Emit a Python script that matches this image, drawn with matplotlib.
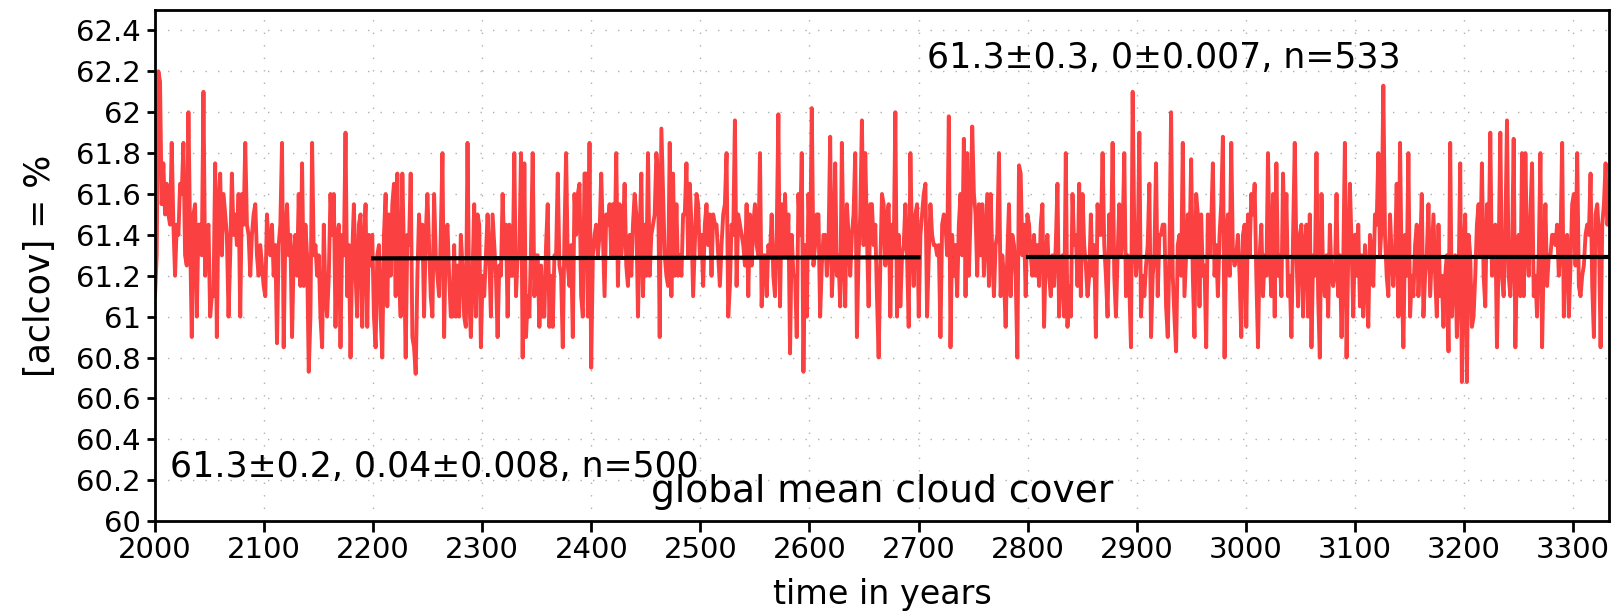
import numpy as np
import matplotlib.pyplot as plt

# global mean cloud cover at ~1.5 year steps
cover = [
    61.1, 61.3, 62.2, 62.15, 61.55, 61.75, 61.5, 61.65, 61.5, 61.45,
    61.85, 61.45, 61.2, 61.45, 61.4, 61.65, 61.6, 61.85, 61.3, 61.25,
    62.0, 61.4, 60.9, 61.5, 61.55, 61.0, 61.45, 61.45, 61.3, 62.1,
    61.2, 61.4, 61.45, 61.0, 61.1, 61.1, 61.75, 60.9, 61.55, 61.7,
    61.3, 61.6, 61.5, 61.4, 61.0, 61.3, 61.7, 61.4, 61.5, 61.35,
    61.6, 61.0, 61.6, 61.45, 61.85, 61.45, 61.4, 61.2, 61.4, 61.5,
    61.55, 61.3, 61.2, 61.35, 61.25, 61.15, 61.1, 61.5, 61.35, 61.3,
    61.45, 61.2, 61.35, 60.87, 61.35, 61.45, 61.85, 60.85, 61.4, 61.55,
    61.3, 61.4, 60.9, 61.3, 61.4, 61.2, 61.6, 61.15, 61.75, 61.15,
    61.45, 61.3, 60.73, 61.0, 61.85, 61.3, 61.35, 61.2, 61.3, 61.0,
    60.85, 61.45, 61.1, 61.0, 61.2, 61.6, 61.4, 61.6, 60.95, 61.4,
    61.45, 60.85, 61.4, 61.3, 61.9, 61.1, 61.35, 60.8, 61.3, 61.55,
    61.2, 61.0, 61.45, 61.5, 60.95, 61.35, 61.55, 60.95, 61.4, 61.25,
    61.4, 61.0, 60.85, 61.3, 61.35, 61.0, 60.8, 61.4, 61.6, 61.05,
    61.5, 61.2, 61.55, 61.65, 61.1,
    # ~2222-2447
    61.7, 61.2, 61.0, 61.7, 61.3, 60.8, 61.4, 61.35, 61.7, 60.9,
    60.85, 60.72, 61.2, 61.5, 61.3, 61.45, 61.0, 61.4, 61.6, 61.35,
    61.1, 61.0, 61.6, 61.3, 61.2, 61.1, 61.4, 61.8, 60.9, 61.4,
    61.45, 61.2, 61.0, 61.0, 61.35, 61.0, 61.25, 61.0, 61.4, 61.25,
    61.0, 60.95, 61.85, 61.1, 60.9, 61.2, 61.55, 61.0, 61.5, 61.45,
    60.85, 61.2, 61.1, 61.3, 61.5, 61.3, 61.0, 61.5, 61.35, 61.2,
    60.9, 61.25, 61.2, 61.6, 61.3, 61.45, 61.0, 61.45, 61.2, 61.2,
    61.8, 61.1, 61.3, 61.3, 61.8, 60.8, 61.75, 60.9, 61.1, 61.0,
    61.35, 61.8, 61.1, 61.3, 61.3, 60.95, 61.25, 61.0, 61.0, 61.35,
    61.55, 60.95, 61.2, 60.95, 61.3, 61.3, 61.7, 61.25, 61.2, 60.85,
    61.4, 61.8, 61.25, 61.15, 61.35, 60.9, 61.6, 61.4, 61.6, 61.65,
    61.1, 61.0, 61.7, 61.7, 61.0, 61.85, 60.75, 61.3, 61.4, 61.45,
    61.3, 61.4, 61.7, 61.4, 61.1, 61.5, 61.45, 61.55, 61.3, 61.55,
    61.3, 61.8, 61.15, 61.55, 61.3, 61.4, 61.65, 61.25, 61.15, 61.4,
    61.2, 61.45, 61.6, 61.5, 61.0, 61.4, 61.7,
    # ~2447-2672
    61.1, 61.45, 61.2, 61.8, 61.2, 61.4, 61.45, 61.5, 61.8, 61.7,
    60.9, 61.92, 61.6, 61.3, 61.2, 61.15, 61.85, 61.1, 61.7, 61.2,
    61.55, 61.2, 61.3, 61.2, 61.5, 61.5, 61.75, 61.3, 61.65, 61.45,
    61.1, 61.35, 61.6, 61.55, 61.3, 61.4, 61.15, 61.45, 61.55, 61.35,
    61.5, 61.2, 61.5, 61.45, 61.45, 61.3, 61.15, 61.35, 61.5, 61.55,
    61.8, 61.0, 61.15, 61.45, 61.4, 61.96, 61.15, 61.5, 61.45, 61.4,
    61.35, 61.25, 61.55, 61.1, 61.5, 61.25, 61.45, 61.55, 61.35, 61.3,
    61.8, 61.05, 61.3, 61.3, 61.1, 61.35, 61.3, 61.5, 61.2, 61.1,
    61.4, 61.99, 61.05, 61.55, 61.3, 61.6, 61.3, 61.5, 60.82, 61.4,
    61.2, 61.2, 60.9, 61.6, 61.4, 61.8, 60.73, 61.35, 61.0, 61.6,
    61.3, 62.02, 61.25, 61.35, 61.5, 61.5, 61.0, 61.25, 61.4, 61.4,
    61.2, 61.35, 61.88, 61.1, 61.3, 61.75, 61.2, 61.3, 61.05, 61.85,
    61.3, 61.05, 61.55, 61.4, 61.2, 61.4, 61.5, 61.8, 60.9, 61.3,
    61.5, 61.96, 61.35, 61.8, 61.4, 61.05, 61.55, 61.55, 61.35, 61.45,
    61.1, 60.8, 61.25, 61.6, 61.55, 61.25, 61.5,
    # ~2672-2897
    61.55, 61.0, 61.45, 61.3, 62.0, 61.0, 61.4, 61.05, 61.3, 61.35,
    61.55, 61.3, 60.95, 61.8, 61.35, 61.15, 61.5, 61.55, 61.0, 61.4,
    61.5, 61.6, 61.65, 61.0, 61.3, 61.55, 61.4, 61.35, 61.35, 61.3,
    61.35, 60.9, 61.45, 61.5, 61.45, 61.3, 61.98, 60.85, 61.4, 61.2,
    61.35, 61.1, 61.45, 61.6, 61.3, 61.87, 61.1, 61.8, 61.2, 61.5,
    61.93, 61.6, 61.5, 61.2, 61.55, 61.3, 61.55, 61.2, 61.4, 61.6,
    61.15, 61.6, 61.3, 61.1, 61.35, 61.4, 61.8, 61.1, 61.3, 61.2,
    60.95, 61.3, 61.55, 61.1, 61.4, 61.35, 61.2, 60.8, 61.74, 61.7,
    61.3, 61.45, 61.1, 61.5, 61.45, 61.3, 61.2, 61.4, 61.2, 61.35,
    61.15, 61.45, 61.55, 60.95, 61.3, 61.4, 61.2, 61.1, 61.3, 61.15,
    61.35, 61.65, 61.0, 61.25, 61.3, 61.0, 61.8, 60.95, 61.15, 61.0,
    61.6, 61.35, 61.4, 61.15, 61.65, 61.1, 61.6, 61.35, 61.25, 61.1,
    61.2, 61.5, 61.2, 61.35, 60.9, 61.55, 61.4, 61.4, 61.8, 61.35,
    61.2, 61.0, 61.5, 61.3, 61.85, 61.2, 61.0, 61.3, 61.55, 61.3,
    61.4, 61.8, 61.1, 61.3, 61.15, 60.85, 62.1,
    # ~2897-3122
    61.4, 61.2, 61.3, 61.9, 61.0, 61.2, 61.1, 61.25, 61.35, 61.65,
    60.9, 61.2, 61.3, 61.75, 61.1, 61.4, 61.4, 61.45, 61.45, 61.05,
    60.9, 61.3, 62.0, 61.2, 61.0, 60.83, 61.35, 61.4, 61.2, 61.85,
    61.1, 61.3, 61.5, 61.3, 61.77, 61.2, 60.9, 61.6, 61.5, 61.05,
    61.5, 61.2, 61.25, 60.85, 61.5, 61.3, 61.45, 61.75, 61.2, 61.35,
    61.1, 61.4, 61.55, 61.88, 60.8, 61.4, 61.5, 61.2, 61.85, 61.3,
    61.25, 61.3, 61.4, 61.2, 60.9, 61.4, 61.45, 60.95, 61.5, 61.3,
    61.6, 61.5, 61.65, 61.2, 60.85, 61.3, 61.45, 61.1, 61.3, 61.2,
    61.8, 61.3, 61.1, 61.6, 61.0, 61.75, 61.2, 61.3, 61.1, 61.7,
    61.3, 61.6, 61.1, 61.2, 60.9, 61.4, 61.85, 61.3, 61.05, 61.4,
    61.45, 61.0, 61.35, 61.45, 61.0, 61.5, 60.85, 61.3, 61.2, 61.8,
    61.1, 60.8, 61.6, 61.2, 61.1, 61.3, 61.0, 61.45, 61.2, 61.15,
    61.2, 61.6, 61.1, 61.3, 60.9, 61.25, 61.85, 60.8, 61.3, 61.65,
    61.35, 61.0, 61.4, 61.2, 61.45, 61.05, 61.3, 61.0, 61.35, 61.2,
    60.95, 61.4, 61.3, 61.15, 61.5, 61.45, 61.8,
    # ~3122-3333
    61.3, 61.45, 62.13, 61.4, 61.2, 61.1, 61.5, 61.3, 61.15, 61.3,
    61.65, 61.0, 61.85, 61.2, 60.85, 61.4, 61.2, 61.8, 61.0, 61.2,
    61.1, 61.35, 61.45, 61.1, 61.3, 61.6, 61.0, 61.2, 61.3, 61.55,
    61.1, 61.3, 61.5, 61.2, 61.0, 61.45, 61.1, 61.2, 60.95, 61.2,
    61.3, 60.83, 61.85, 61.0, 61.2, 61.3, 60.9, 61.15, 61.75, 60.68,
    61.3, 61.5, 60.68, 61.4, 61.3, 60.95, 61.0, 61.2, 61.45, 61.55,
    61.3, 61.75, 61.2, 61.05, 61.55, 61.3, 61.9, 61.2, 61.4, 61.45,
    60.85, 61.3, 61.9, 61.2, 61.1, 61.4, 61.96, 61.2, 61.1, 61.3,
    61.87, 60.85, 61.3, 61.4, 61.1, 61.8, 61.1, 61.8, 61.3, 61.2,
    61.5, 61.75, 61.1, 61.2, 61.0, 61.3, 61.8, 60.85, 61.3, 61.55,
    61.15, 61.3, 61.3, 61.4, 61.4, 61.35, 61.45, 61.2, 61.35, 61.85,
    61.0, 61.35, 61.4, 61.0, 61.25, 61.55, 61.6, 61.25, 61.8, 61.15,
    61.1, 61.2, 61.25, 61.4, 61.45, 61.4, 61.7, 61.15, 60.9, 61.5,
    61.55, 61.4, 60.85, 61.45, 61.55, 61.75, 61.45, 61.5,
]
years = np.linspace(2000, 3333, len(cover))

# linear fits over the two windows
fit1_x = [2200, 2700]
fit1_y = [61.285, 61.29]
fit2_x = [2800, 3333]
fit2_y = [61.29, 61.29]

label1 = "61.3\u00b10.2, 0.04\u00b10.008, n=500"
label2 = "61.3\u00b10.3, 0\u00b10.007, n=533"

plt.rcParams['font.family'] = 'DejaVu Sans'

fig = plt.figure(figsize=(16.18, 6.15), dpi=100)
ax = fig.add_axes([0.0958, 0.1528, 0.8986, 0.8309])

ax.plot(years, cover, color='#fa4040', lw=2.8, zorder=2)
ax.plot(fit1_x, fit1_y, color='black', lw=3, zorder=3)
ax.plot(fit2_x, fit2_y, color='black', lw=3, zorder=3)

ax.set_xlim(2000, 3333)
ax.set_ylim(60, 62.5)
ax.set_xticks(np.arange(2000, 3301, 100))
ax.set_yticks(np.arange(60, 62.41, 0.2))
ax.yaxis.set_major_formatter(plt.FuncFormatter(lambda v, p: '%g' % round(v, 1)))

ax.grid(True, color='#b0b0b0', lw=1.0, linestyle=(0, (1, 8)))
ax.set_axisbelow(True)
for s in ax.spines.values():
    s.set_linewidth(2)
ax.tick_params(axis='both', direction='out', width=2, labelsize=21)
ax.tick_params(axis='x', length=8, pad=3)
ax.tick_params(axis='y', length=6, pad=4)

ax.set_xlabel("time in years", fontsize=24, labelpad=10)
ax.set_ylabel("[aclcov] = %", fontsize=25, labelpad=14)

ax.text(0.0103, 0.086, label1, transform=ax.transAxes, fontsize=25, va='baseline')
ax.text(0.531, 0.886, label2, transform=ax.transAxes, fontsize=25, va='baseline')
ax.text(0.50, 0.022, "global mean cloud cover", transform=ax.transAxes,
        fontsize=27, ha='center', va='bottom')

fig.savefig("out.png", dpi=100)
